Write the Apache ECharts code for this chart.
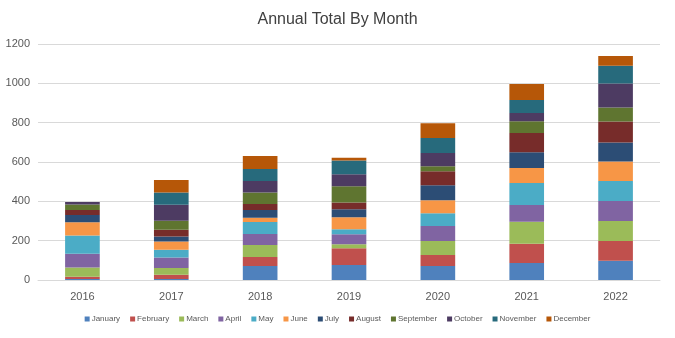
<!DOCTYPE html>
<html><head><meta charset="utf-8">
<script src="https://cdn.jsdelivr.net/npm/echarts@6/dist/echarts.min.js"></script>
<style>html,body{margin:0;padding:0;background:#fff}#c{width:675px;height:338px}</style>
</head><body><div id="c"></div>
<script>
const years = ['2016','2017','2018','2019','2020','2021','2022'];
const months = ['January','February','March','April','May','June','July','August','September','October','November','December'];
const January   = [5, 5, 71, 76, 71, 86, 98];
const February  = [12, 22, 46, 86, 56, 98, 100];
const March     = [46, 34, 61, 20, 71, 112, 102];
const April     = [70, 54, 56, 51, 76, 85, 102];
const May       = [93, 39, 61, 25, 66, 112, 102];
const June      = [68, 42, 22, 61, 66, 76, 98];
const July      = [37, 25, 39, 41, 76, 81, 97];
const August    = [25, 34, 30, 34, 71, 98, 107];
const September = [28, 46, 59, 83, 25, 59, 71];
const October   = [13, 81, 58, 61, 68, 42, 122];
const November  = [0, 63, 61, 69, 76, 66, 91];
const December  = [0, 64, 66, 14, 75, 81, 49];
const seriesData = [January, February, March, April, May, June, July, August, September, October, November, December];
const colors = ['#4F81BD','#C0504D','#9BBB59','#8064A2','#4BACC6','#F79646','#2C4D75','#772C2A','#5F7530','#4D3B62','#276A7C','#B65708'];
const chart = echarts.init(document.getElementById('c'));
chart.setOption({
  animation: false,
  color: colors,
  title: {text: 'Annual Total By Month', left: 'center', top: 7,
    textStyle: {fontFamily: 'Liberation Sans', fontSize: 16, fontWeight: 'normal', color: '#404040'}},
  grid: {left: 38, right: 15, top: 44, bottom: 58},
  legend: {bottom: 10, left: 'center', itemWidth: 5, itemHeight: 5, itemGap: 10, icon: 'rect',
    textStyle: {fontFamily: 'Liberation Sans', fontSize: 8, color: '#595959', padding: [0,0,0,-3]}},
  xAxis: {type: 'category', data: years,
    axisLine: {lineStyle: {color: '#d9d9d9'}}, axisTick: {show: false},
    axisLabel: {color: '#595959', fontFamily: 'Liberation Sans', fontSize: 11, margin: 11}},
  yAxis: {type: 'value', min: 0, max: 1200, interval: 200,
    axisLine: {show: false}, axisTick: {show: false},
    splitLine: {lineStyle: {color: '#d9d9d9'}},
    axisLabel: {color: '#595959', fontFamily: 'Liberation Sans', fontSize: 11, margin: 8,
      formatter: v => String(v)}},
  series: months.map((m, i) => ({
    name: m, type: 'bar', stack: 'total', barWidth: '39%', data: seriesData[i]
  }))
});
</script></body></html>
